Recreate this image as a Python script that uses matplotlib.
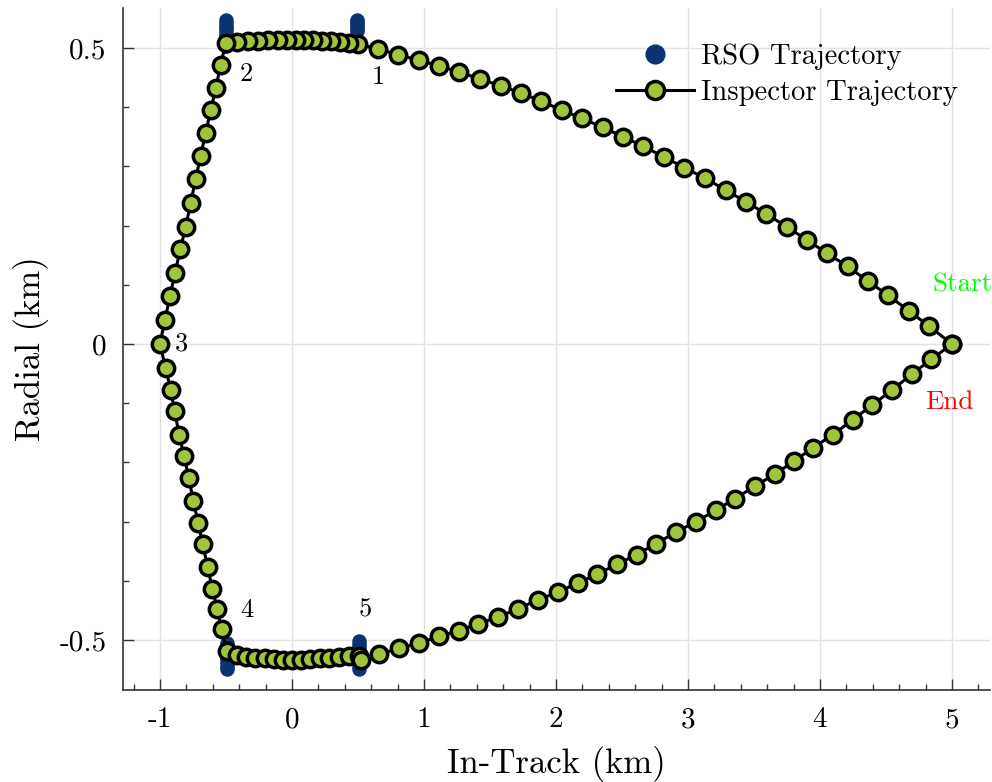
import matplotlib
matplotlib.use("Agg")
import matplotlib.pyplot as plt
from matplotlib.ticker import MultipleLocator

# Inspector trajectory (km)
# leg from Start up to waypoint 1
leg_a_x = [5.0, 4.826, 4.674, 4.517, 4.364, 4.210, 4.055, 3.899, 3.748, 3.591,
           3.439, 3.286, 3.129, 2.972, 2.818, 2.661, 2.510, 2.354, 2.199, 2.045,
           1.889, 1.735, 1.581, 1.424, 1.267, 1.114, 0.962, 0.805, 0.649, 0.502]
leg_a_y = [0.0, 0.030, 0.056, 0.082, 0.106, 0.131, 0.153, 0.176, 0.198, 0.220,
           0.240, 0.260, 0.280, 0.298, 0.316, 0.334, 0.350, 0.366, 0.381, 0.395,
           0.410, 0.424, 0.436, 0.448, 0.459, 0.470, 0.479, 0.489, 0.498, 0.507]
# top pass, waypoint 1 -> 2
leg_b_x = [0.434, 0.364, 0.295, 0.230, 0.161, 0.093, 0.028, -0.040, -0.108,
           -0.184, -0.260, -0.336, -0.419, -0.500]
leg_b_y = [0.509, 0.510, 0.511, 0.512, 0.513, 0.513, 0.513, 0.513, 0.513,
           0.513, 0.512, 0.511, 0.510, 0.509]
# left arc, waypoint 2 -> 3 -> 4
leg_c_x = [-0.540, -0.576, -0.616, -0.654, -0.692, -0.730, -0.767, -0.805, -0.846,
           -0.886, -0.924, -0.962, -1.000, -0.957, -0.919, -0.889, -0.854, -0.818,
           -0.780, -0.748, -0.710, -0.677, -0.639, -0.604, -0.566, -0.533, -0.495]
leg_c_y = [0.472, 0.433, 0.395, 0.356, 0.318, 0.278, 0.239, 0.198, 0.160,
           0.120, 0.081, 0.041, 0.000, -0.041, -0.077, -0.114, -0.153, -0.190,
           -0.227, -0.265, -0.302, -0.338, -0.376, -0.413, -0.448, -0.482, -0.518]
# bottom pass, waypoint 4 -> 5
leg_d_x = [-0.419, -0.348, -0.278, -0.207, -0.139, -0.070, -0.002, 0.068, 0.139,
           0.212, 0.283, 0.354, 0.430, 0.505, 0.520]
leg_d_y = [-0.525, -0.528, -0.530, -0.531, -0.532, -0.533, -0.533, -0.533, -0.532,
           -0.531, -0.530, -0.529, -0.527, -0.527, -0.534]
# leg from waypoint 5 back to End
leg_e_x = [0.661, 0.813, 0.964, 1.114, 1.263, 1.411, 1.563, 1.714, 1.866, 2.013,
           2.164, 2.313, 2.460, 2.611, 2.758, 2.909, 3.061, 3.210, 3.358, 3.508,
           3.657, 3.803, 3.949, 4.098, 4.248, 4.396, 4.545, 4.695, 4.843, 5.0]
leg_e_y = [-0.524, -0.514, -0.505, -0.494, -0.484, -0.473, -0.461, -0.447, -0.432, -0.419,
           -0.404, -0.389, -0.372, -0.356, -0.337, -0.318, -0.300, -0.281, -0.261, -0.240,
           -0.220, -0.198, -0.175, -0.153, -0.128, -0.103, -0.078, -0.051, -0.026, 0.0]

# RSO trajectory samples (km), four short dense streaks
rso_x = [-0.50, -0.50, -0.50, -0.50, -0.50, -0.50, -0.50, -0.50, -0.50, -0.50,
         0.495, 0.495, 0.495, 0.495, 0.495, 0.495, 0.495,
         -0.495, -0.495, -0.495, -0.495, -0.495, -0.495, -0.495, -0.495, -0.495, -0.495,
         0.51, 0.51, 0.51, 0.51, 0.51, 0.51, 0.51, 0.51, 0.51, 0.51]
rso_y = [0.548, 0.543, 0.538, 0.533, 0.528, 0.523, 0.518, 0.513, 0.508, 0.504,
         0.548, 0.545, 0.542, 0.539, 0.535, 0.532, 0.529,
         -0.505, -0.510, -0.515, -0.520, -0.525, -0.530, -0.535, -0.540, -0.545, -0.549,
         -0.502, -0.507, -0.512, -0.517, -0.522, -0.528, -0.533, -0.539, -0.544, -0.549]

# waypoint labels
wp_labels = ["1", "2", "3", "4", "5"]
wp_x = [0.606, -0.394, -0.886, -0.394, 0.508]
wp_y = [0.451, 0.456, 0.0, -0.449, -0.449]

x_ticks = [-1, 0, 1, 2, 3, 4, 5]
x_tick_labels = ["-1", "0", "1", "2", "3", "4", "5"]
y_ticks = [-0.5, 0, 0.5]
y_tick_labels = ["-0.5", "0", "0.5"]

plt.rcParams['font.family'] = ['cmr10', 'DejaVu Serif']
plt.rcParams['axes.unicode_minus'] = False

fig = plt.figure(figsize=(9.92, 7.82), dpi=100)
ax = fig.add_axes([0.124, 0.1176, 0.874, 0.8722])

# RSO drawn first so the inspector sits on top
ax.plot(rso_x, rso_y, 'o', color='#0b3272', markersize=9.4, label='RSO Trajectory', zorder=2)

insp_x = leg_a_x + leg_b_x + leg_c_x + leg_d_x + leg_e_x
insp_y = leg_a_y + leg_b_y + leg_c_y + leg_d_y + leg_e_y
ax.plot(insp_x, insp_y, '-o', color='black', linewidth=2.2,
        markerfacecolor='#a0c53a', markeredgecolor='black',
        markersize=11.8, markeredgewidth=2.5, label='Inspector Trajectory', zorder=3)

for lab, tx, ty in zip(wp_labels, wp_x, wp_y):
    ax.text(tx, ty, lab, fontsize=19, ha='left', va='center', zorder=4)

ax.text(4.85, 0.101, 'Start', color='#00ff00', fontsize=19.5, ha='left', va='center')
ax.text(4.80, -0.098, 'End', color='#ff0000', fontsize=19.5, ha='left', va='center')

ax.set_xlim(-1.28, 5.288)
ax.set_ylim(-0.5845, 0.5676)
ax.set_xticks(x_ticks)
ax.set_xticklabels(x_tick_labels)
ax.set_yticks(y_ticks)
ax.set_yticklabels(y_tick_labels)
ax.xaxis.set_minor_locator(MultipleLocator(0.2))
ax.yaxis.set_minor_locator(MultipleLocator(0.1))
ax.tick_params(which='both', direction='in', labelsize=21, width=1.0, color='#333333')
ax.tick_params(which='major', length=8, pad=12)
ax.tick_params(which='minor', length=4)

ax.set_xlabel('In-Track (km)', fontsize=25, labelpad=9)
ax.set_ylabel('Radial (km)', fontsize=25, labelpad=7)

for side in ['top', 'right']:
    ax.spines[side].set_visible(False)
for side in ['left', 'bottom']:
    ax.spines[side].set_linewidth(1.2)
    ax.spines[side].set_color('#333333')

ax.grid(True, which='major', color='#e3e3e3', linewidth=1.0)
ax.set_axisbelow(True)

leg = ax.legend(loc='upper right', bbox_to_anchor=(0.993, 0.985), frameon=False, fontsize=20.6,
                handlelength=2.75, handletextpad=0.25, labelspacing=0.33)
leg.legend_handles[0].set_markersize(13.5)
leg.legend_handles[1].set_markersize(13)

fig.savefig('out.png', dpi=100)
